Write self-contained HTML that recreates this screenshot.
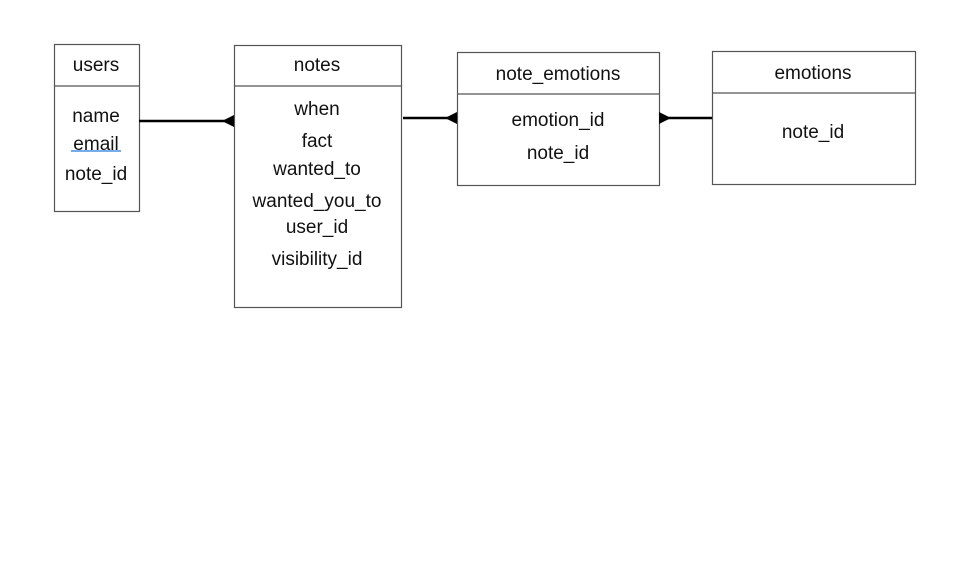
<!DOCTYPE html>
<html><head><meta charset="utf-8"><style>
html,body{margin:0;padding:0;background:#fff;}
svg{display:block;}
text{font-family:"Liberation Sans",Arial,sans-serif;font-size:19px;fill:#111;text-anchor:middle;dominant-baseline:central;}
</style></head><body>
<svg width="954" height="565" viewBox="0 0 954 565" xmlns="http://www.w3.org/2000/svg">
<g fill="none" stroke="#555" stroke-width="1.2">
<rect x="54.5" y="44.5" width="85" height="167"/>
<line x1="54.5" y1="86" x2="139.5" y2="86"/>
<rect x="234.5" y="45.5" width="167" height="262"/>
<line x1="234.5" y1="86" x2="401.5" y2="86"/>
<rect x="457.5" y="52.5" width="202" height="133"/>
<line x1="457.5" y1="94" x2="659.5" y2="94"/>
<rect x="712.5" y="51.5" width="203" height="133"/>
<line x1="712.5" y1="93" x2="915.5" y2="93"/>
</g>
<g stroke="#000" stroke-width="2.5">
<line x1="139" y1="121" x2="228" y2="121"/>
<line x1="403" y1="118" x2="450" y2="118"/>
<line x1="666" y1="118" x2="712" y2="118"/>
</g>
<g fill="#000">
<polygon points="234,115 234,127 222,121"/>
<polygon points="457,112 457,124 445,118"/>
<polygon points="659,112 659,124 671,118"/>
</g>
<g transform="translate(0,1.5)">
<text x="96" y="64">users</text>
<text x="96" y="115">name</text>
<text x="96" y="143">email</text>
<text x="96" y="173">note_id</text>
<text x="317" y="64">notes</text>
<text x="317" y="108">when</text>
<text x="317" y="140">fact</text>
<text x="317" y="168">wanted_to</text>
<text x="317" y="200">wanted_you_to</text>
<text x="317" y="226">user_id</text>
<text x="317" y="258">visibility_id</text>
<text x="558" y="73">note_emotions</text>
<text x="558" y="119">emotion_id</text>
<text x="558" y="152">note_id</text>
<text x="813" y="72">emotions</text>
<text x="813" y="131">note_id</text>
</g>
<line x1="71" y1="151" x2="121" y2="151" stroke="#4a90e2" stroke-width="1.5"/>
</svg>
</body></html>
